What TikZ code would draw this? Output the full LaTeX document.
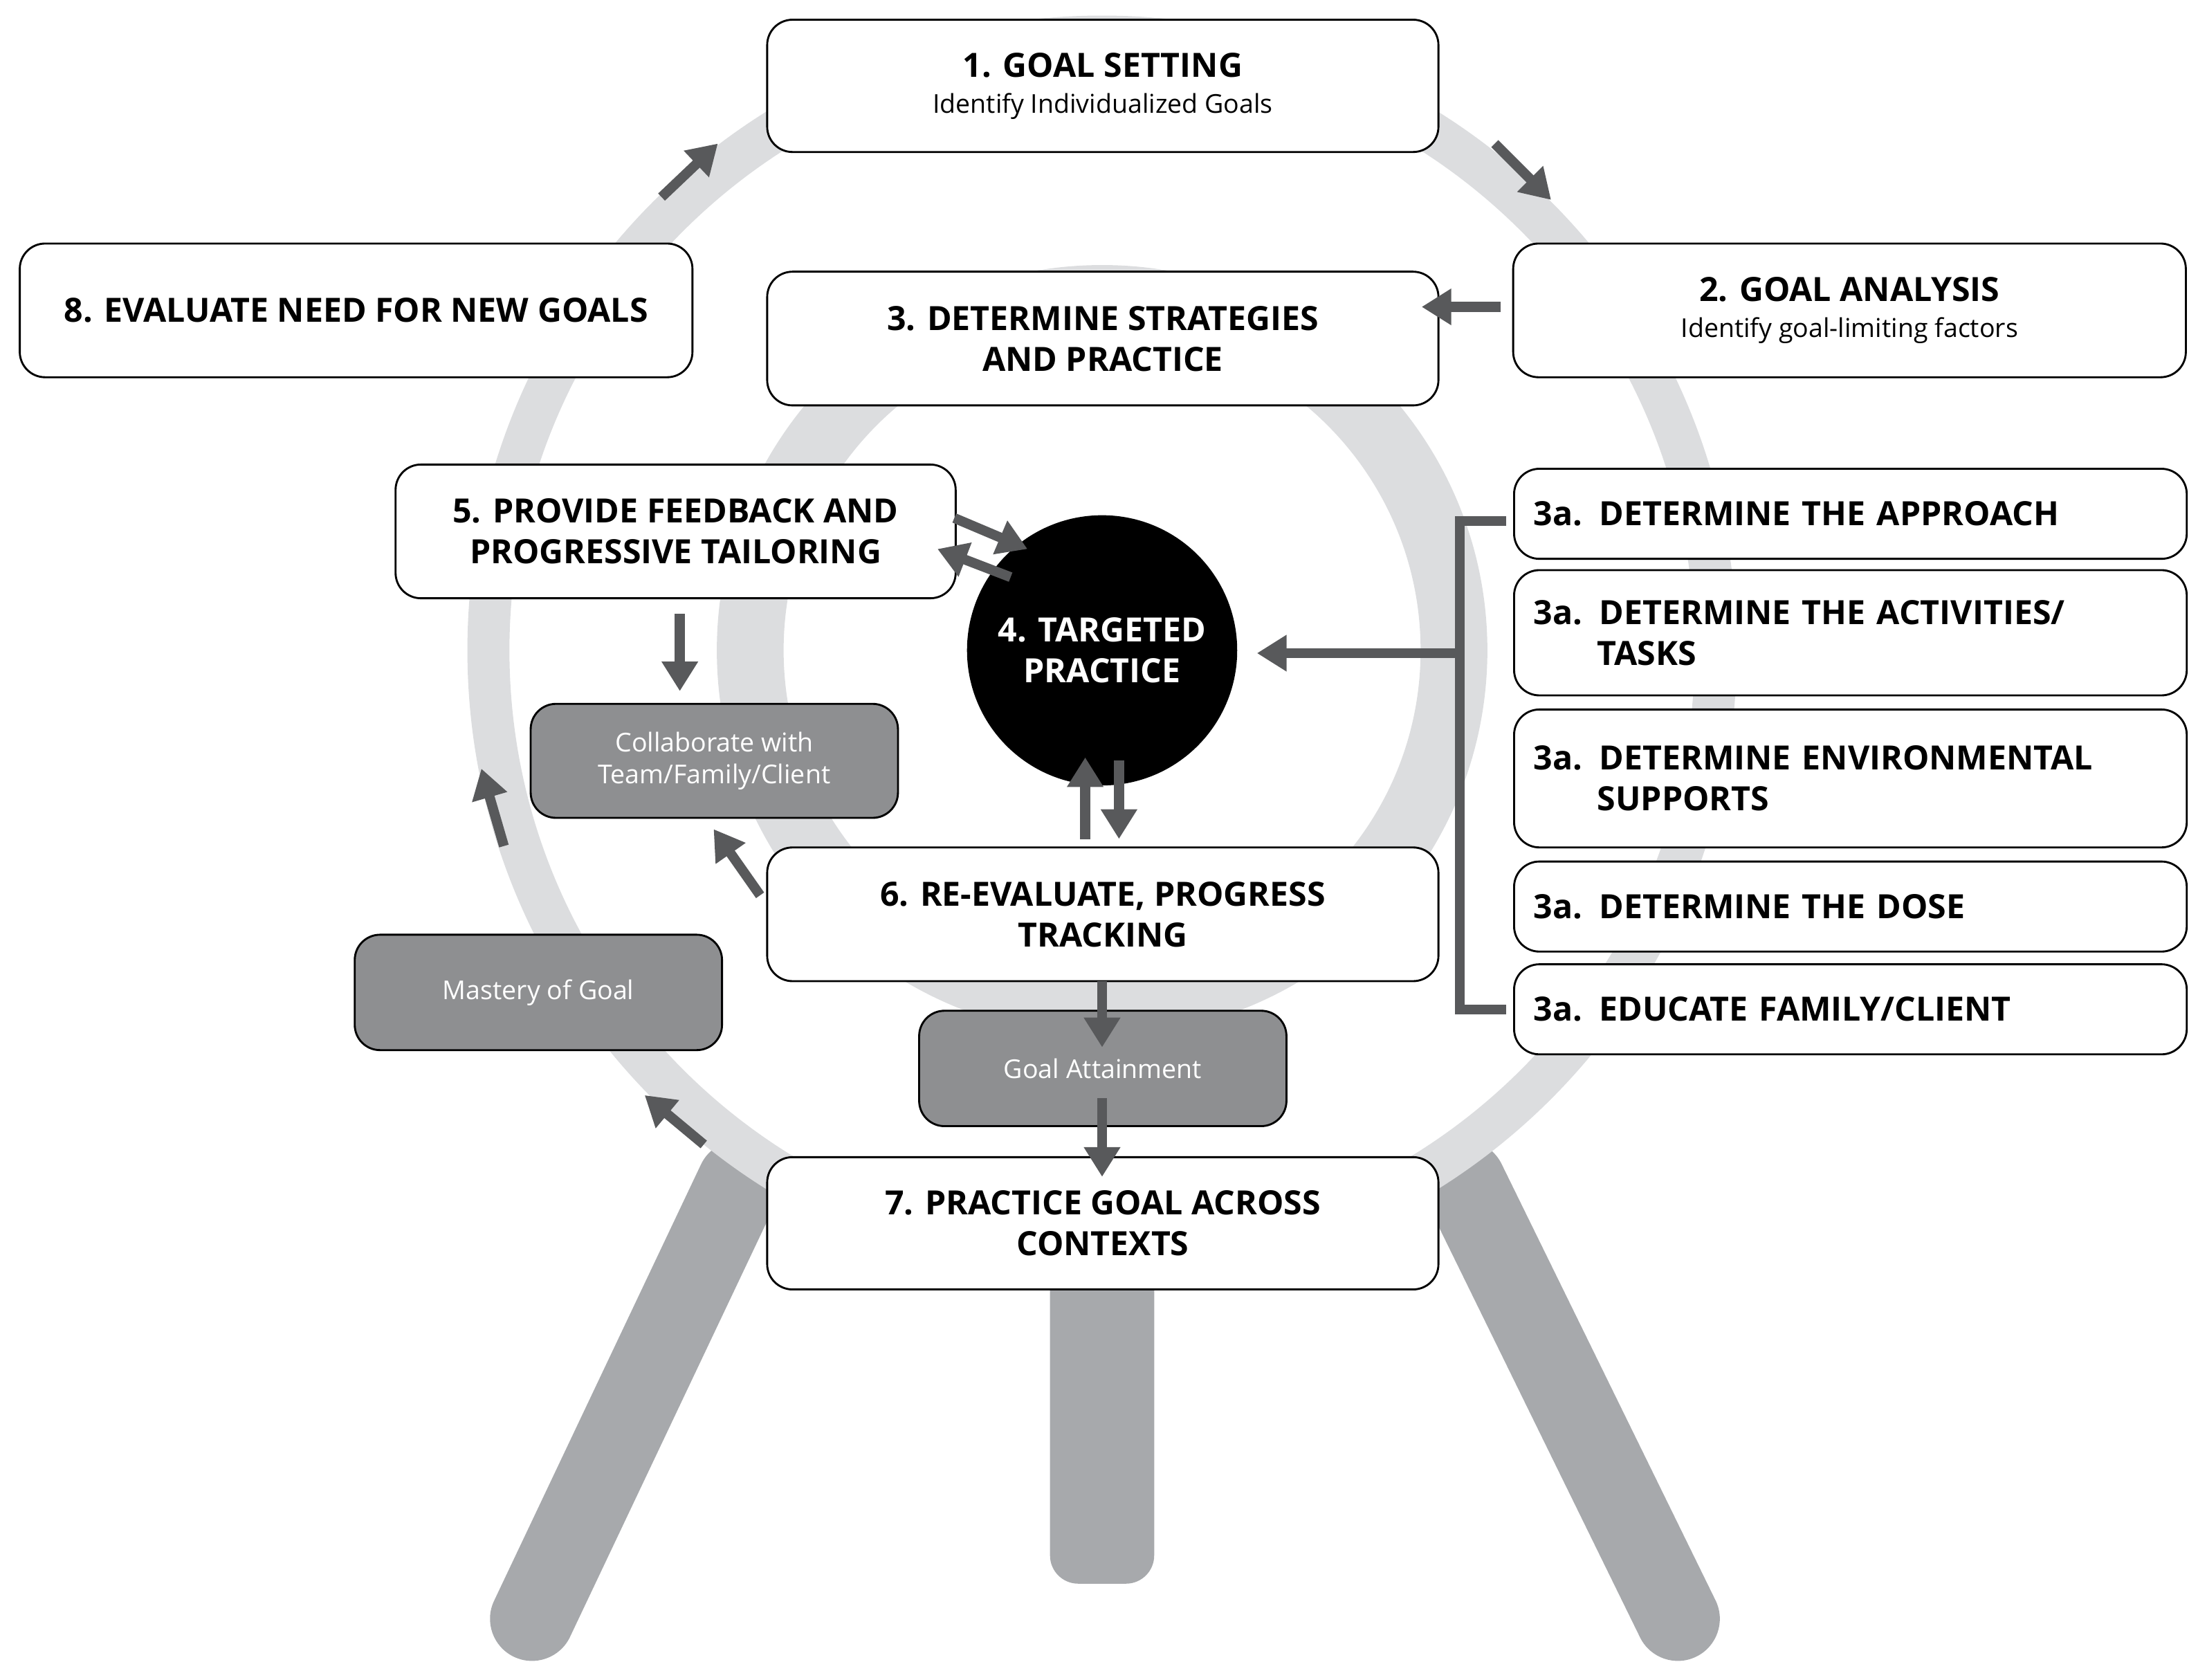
\documentclass[tikz,border=0pt]{standalone}
\usepackage{fontspec}
\setmainfont{Open Sans}
\usetikzlibrary{arrows.meta}
\definecolor{ring}{HTML}{DCDDDF}
\definecolor{leg}{HTML}{A7A9AC}
\definecolor{arr}{HTML}{58595B}
\definecolor{gbox}{HTML}{8E8F91}
\newcommand{\subt}{\fontsize{10.5}{13}\selectfont\mdseries}
\begin{document}
\begin{tikzpicture}[x={(0.02cm,0)},y={(0,-0.02cm)},
 box/.style={draw=black,line width=0.8pt,fill=white,rounded corners=0.36cm,align=center,font=\bfseries\fontsize{13.5}{16.5}\selectfont},
 gb/.style={draw=black,line width=0.8pt,fill=gbox,rounded corners=0.36cm,align=center,text=white,font=\fontsize{10.5}{13}\selectfont},
 ar/.style={draw=arr,line width=4pt,-{Triangle[length=12pt,width=14pt]}},
 legs/.style={draw=leg,line width=34pt,line cap=round}]
\useasboundingbox (0,0) rectangle (1568,1193);
% legs
\draw[legs] (525,840) -- (378,1150);
\draw[legs] (1040,840) -- (1192,1150);
\fill[leg,rounded corners=0.4cm] (746,880) rectangle (820,1125);
% rings
\draw[ring,line width=17pt] (783,462) circle (436);
\draw[ring,line width=27pt] (783,462) circle (250);
% boxes
\node[box,minimum width=9.54cm,minimum height=1.88cm] (g1) at (783.5,61) {1. GOAL SETTING\\[-2pt]{\subt Identify Individualized Goals}};
\node[box,minimum width=9.56cm,minimum height=1.9cm] (g2) at (1314,220.5) {2. GOAL ANALYSIS\\[-2pt]{\subt Identify goal-limiting factors}};
\node[box,minimum width=9.54cm,minimum height=1.9cm] (g3) at (783.5,240.5) {3. DETERMINE STRATEGIES\\AND PRACTICE};
\node[box,minimum width=9.56cm,minimum height=1.9cm] (g8) at (253,220.5) {8. EVALUATE NEED FOR NEW GOALS};
\node[box,minimum width=7.96cm,minimum height=1.9cm] (g5) at (480,377.5) {5. PROVIDE FEEDBACK AND\\PROGRESSIVE TAILORING};
\node[box,minimum width=9.54cm,minimum height=1.9cm] (g6) at (783.5,649.5) {6. RE-EVALUATE, PROGRESS\\TRACKING};
\node[box,minimum width=9.54cm,minimum height=1.88cm] (g7) at (783.5,869) {7. PRACTICE GOAL ACROSS\\CONTEXTS};
\begin{scope}[every node/.append style={box,align=left,minimum width=9.56cm,anchor=west,text width=9.0cm}]
\node[minimum height=1.28cm] (a1) at (1075,365) {3a. DETERMINE THE APPROACH};
\node[minimum height=1.78cm] (a2) at (1075,449.5) {3a. DETERMINE THE ACTIVITIES/\\\hspace*{1.9em}TASKS};
\node[minimum height=1.96cm] (a3) at (1075,553) {3a. DETERMINE ENVIRONMENTAL\\\hspace*{1.9em}SUPPORTS};
\node[minimum height=1.28cm] (a4) at (1075,644) {3a. DETERMINE THE DOSE};
\node[minimum height=1.28cm] (a5) at (1075,717) {3a. EDUCATE FAMILY/CLIENT};
\end{scope}
\node[gb,minimum width=5.22cm,minimum height=1.62cm] (col) at (507.5,540.5) {Collaborate with\\Team/Family/Client};
\node[gb,minimum width=5.22cm,minimum height=1.64cm] (mas) at (382.5,705) {Mastery of Goal};
\node[gb,minimum width=5.22cm,minimum height=1.64cm] (att) at (783.5,759) {Goal Attainment};
\node[circle,fill=black,minimum size=3.84cm,text=white,align=center,font=\bfseries\fontsize{13.5}{16.5}\selectfont] (g4) at (783,462) {4. TARGETED\\PRACTICE};
% arrows
\coordinate (p1) at (470,140); \coordinate (p2) at (510,102);
\draw[ar] (p1) -- (p2);
\coordinate (p3) at (1062,102); \coordinate (p4) at (1102,142);
\draw[ar] (p3) -- (p4);
\coordinate (p5) at (1066,218); \coordinate (p6) at (1010,218);
\draw[ar] (p5) -- (p6);
\draw[arr,line width=4pt] (1070,370) -- (1037,370) -- (1037,717) -- (1070,717);
\coordinate (br) at (1037,464);
\draw[ar] (br) -- (893,464);
\draw[ar] (678,368) -- (730,390);
\draw[ar] (718,410) -- (666,390);
\draw[ar] (483,436) -- (483,491);
\draw[ar] (771,596) -- (771,538);
\draw[ar] (795,540) -- (795,596);
\draw[ar] (540,636) -- (507,589);
\draw[ar] (783,697) -- (783,744);
\draw[ar] (783,780) -- (783,836);
\draw[ar] (500,813) -- (458,778);
\draw[ar] (358,601) -- (342,546);
\end{tikzpicture}
\end{document}
